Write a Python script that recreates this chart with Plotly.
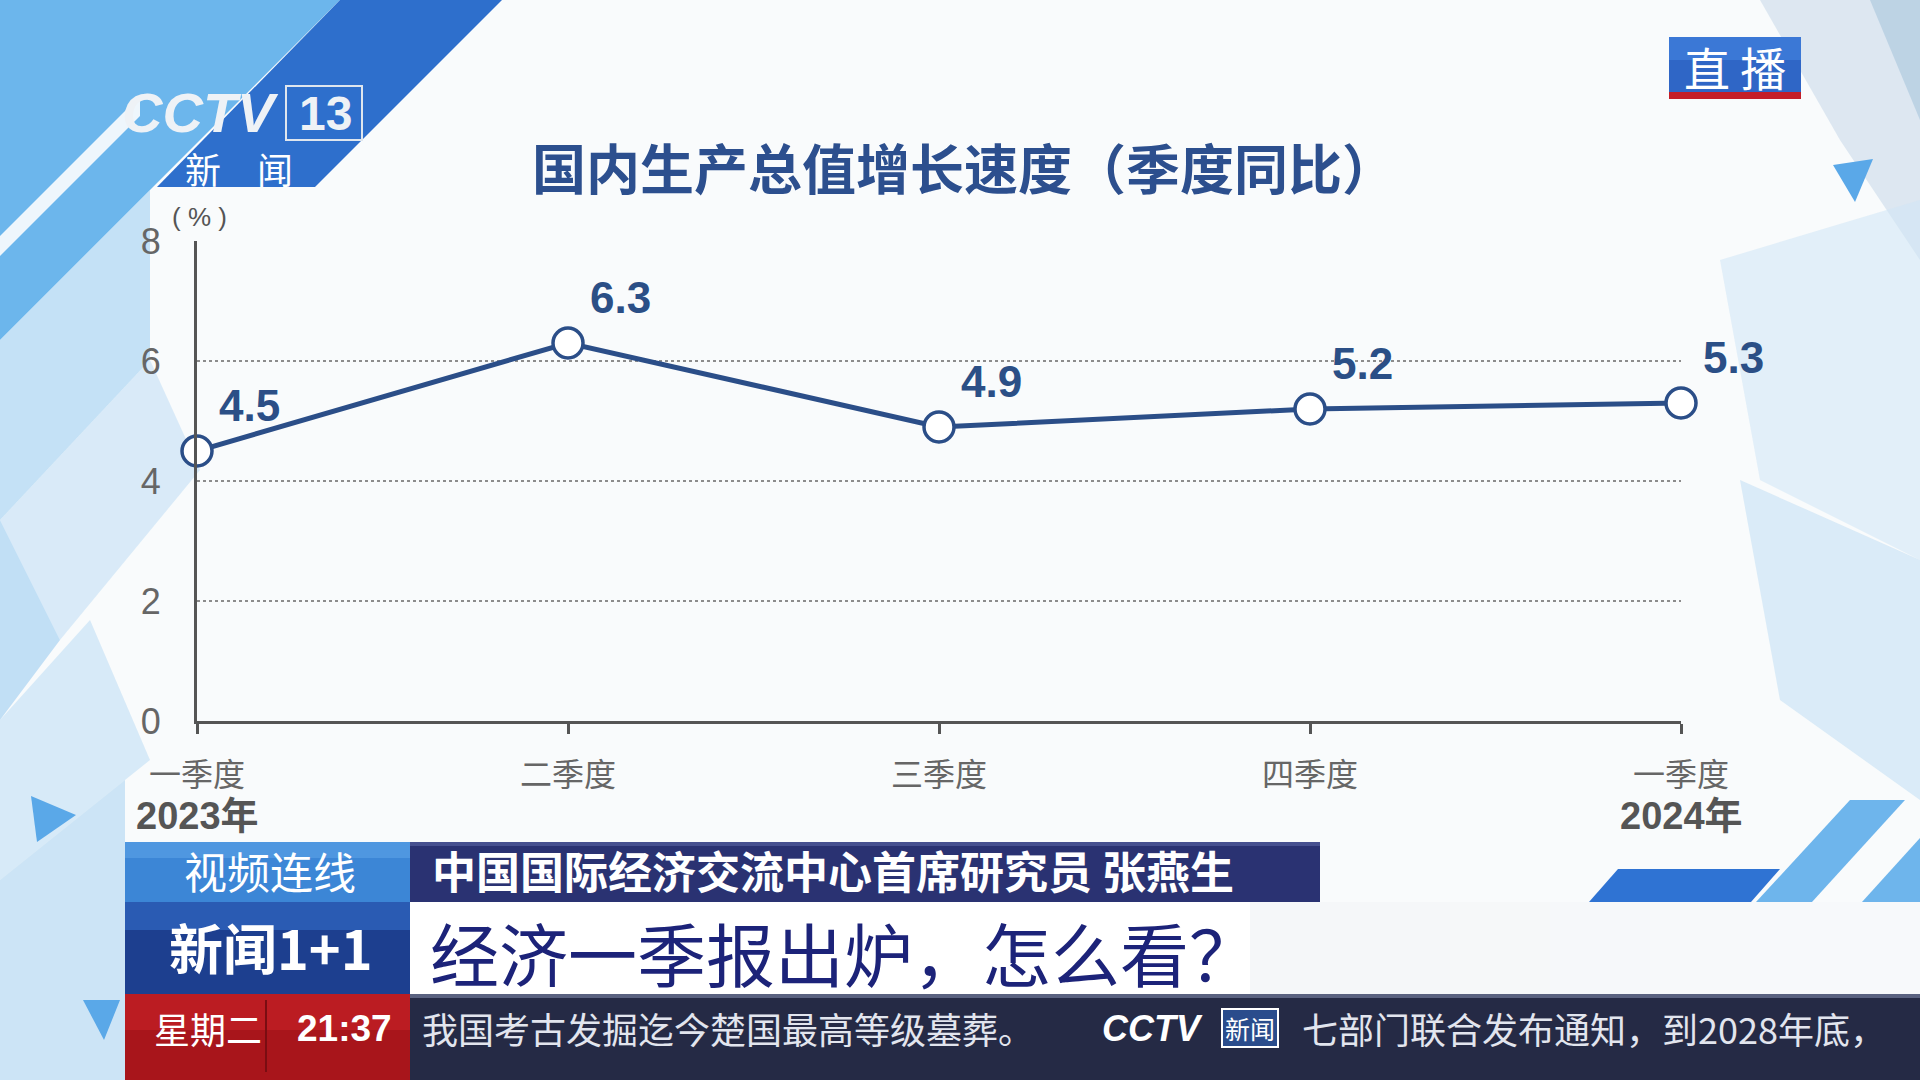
import plotly.graph_objects as go

# ---------------- data ----------------
categories = ["一季度", "二季度", "三季度", "四季度", "一季度"]
gdp_growth = [4.5, 6.3, 4.9, 5.2, 5.3]
year_positions = [0, 4]
year_labels = ["2023年", "2024年"]
y_ticks = [0, 2, 4, 6, 8]
chart_title = "国内生产总值增长速度（季度同比）"
unit_label = "( % )"

W, H = 1920, 1080
CJK = "Noto Sans CJK SC"
NUM = "Liberation Sans, Arial, Noto Sans CJK SC"
LINE_BLUE = "#2b4e88"


def px(x):
    return x / W


def py(y):
    return 1 - y / H


def poly(points, color, layer="below", opacity=1.0):
    d = "M " + " L ".join(f"{px(x):.5f} {py(y):.5f}" for x, y in points) + " Z"
    return dict(type="path", path=d, xref="paper", yref="paper",
                fillcolor=color, line=dict(width=0), layer=layer, opacity=opacity)


def rect(x0, y0, x1, y1, color, layer="above", opacity=1.0, line=None):
    return dict(type="rect", xref="paper", yref="paper",
                x0=px(x0), x1=px(x1), y0=py(y1), y1=py(y0),
                fillcolor=color, line=line or dict(width=0), layer=layer, opacity=opacity)


def text(x, y, s, size, color, family=CJK, xanchor="center", yanchor="middle", **kw):
    return dict(x=px(x), y=py(y), xref="paper", yref="paper", text=s, showarrow=False,
                xanchor=xanchor, yanchor=yanchor,
                font=dict(size=size, color=color, family=family), **kw)


fig = go.Figure()

fig.add_trace(go.Scatter(
    x=list(range(len(categories))),
    y=gdp_growth,
    mode="lines+markers",
    line=dict(color=LINE_BLUE, width=5),
    marker=dict(symbol="circle", size=30, color="white",
                line=dict(color=LINE_BLUE, width=3.5)),
    cliponaxis=False,
    hoverinfo="skip",
    showlegend=False,
))

shapes = []
# --- background decoration (below) ---
shapes.append(poly([(0, 0), (340, 0), (0, 340)], "#6cb6ec"))
shapes.append(poly([(0, 236), (140, 96), (140, 116), (0, 256)], "#eef6fc"))
shapes.append(poly([(340, 0), (502, 0), (315, 187), (157, 187)], "#2e6fcc"))
# left faded pattern
shapes.append(poly([(0, 340), (150, 190), (150, 360), (0, 520)], "#8fc7ef", opacity=0.5))
shapes.append(poly([(0, 520), (150, 360), (200, 470), (60, 640)], "#a9d3f2", opacity=0.4))
shapes.append(poly([(0, 520), (60, 640), (0, 720)], "#7dbdee", opacity=0.45))
shapes.append(poly([(0, 720), (90, 620), (150, 760), (0, 880)], "#b6daf3", opacity=0.5))
shapes.append(poly([(0, 880), (125, 780), (125, 1080), (0, 1080)], "#9fcdf0", opacity=0.5))
# right faded pattern
shapes.append(poly([(1760, 0), (1920, 0), (1920, 260), (1840, 140)], "#c9dbe9", opacity=0.6))
shapes.append(poly([(1870, 0), (1920, 0), (1920, 120)], "#a9c6dc", opacity=0.6))
shapes.append(poly([(1720, 260), (1920, 200), (1920, 560), (1760, 480)], "#cfe5f5", opacity=0.55))
shapes.append(poly([(1740, 480), (1920, 560), (1920, 800), (1780, 700)], "#bcdcf3", opacity=0.5))
# small triangles
shapes.append(poly([(1833, 165), (1873, 159), (1855, 202)], "#5aa8e8"))
shapes.append(poly([(31, 796), (76, 815), (37, 842)], "#5aa8e8"))
shapes.append(poly([(83, 1000), (120, 1000), (104, 1040)], "#5aa8e8"))
# bottom right stripes
shapes.append(poly([(1589, 902), (1618, 869), (1780, 869), (1751, 902)], "#2f73d3", layer="above"))
shapes.append(poly([(1756, 902), (1850, 800), (1905, 800), (1812, 902)], "#6eb5ec", layer="above"))
shapes.append(poly([(1862, 902), (1920, 838), (1920, 902)], "#6eb5ec", layer="above"))

# --- lower third (above) ---
shapes.append(rect(410, 902, 1250, 994, "#ffffff", opacity=0.97))
fade = [(1250, 1350, 0.9), (1350, 1450, 0.8), (1450, 1550, 0.68), (1550, 1650, 0.55),
        (1650, 1750, 0.45), (1750, 1920, 0.35)]
for a, b, o in fade:
    shapes.append(rect(a, 902, b, 994, "#f4f6f8", opacity=o))
shapes.append(rect(125, 842, 410, 902, "#3c86d6"))
shapes.append(rect(125, 842, 410, 858, "#4f97e0"))
shapes.append(rect(410, 842, 1320, 902, "#2a3272"))
shapes.append(rect(410, 842, 1320, 846, "#46508f"))
shapes.append(rect(125, 902, 410, 994, "#1d3f8f"))
shapes.append(rect(125, 902, 410, 930, "#2a5bb3"))
shapes.append(rect(410, 994, 1920, 1080, "#252a45"))
shapes.append(rect(410, 994, 1920, 998, "#5a6280"))
shapes.append(rect(125, 994, 410, 1080, "#a8151b"))
shapes.append(rect(125, 994, 410, 1030, "#bb1c22"))
shapes.append(rect(265, 1000, 267, 1072, "#7a0d12"))
shapes.append(dict(type="rect", xref="paper", yref="paper",
                   x0=px(1222), x1=px(1278), y0=py(1047), y1=py(1009),
                   fillcolor="#2a4c8c", line=dict(color="white", width=2), layer="above"))
shapes.append(rect(1669, 37, 1801, 98, "#2f66c6"))
shapes.append(rect(1669, 37, 1801, 60, "#3b78d6"))
shapes.append(rect(1669, 92, 1801, 99, "#c41e28"))
shapes.append(dict(type="rect", xref="paper", yref="paper",
                   x0=px(286), x1=px(362), y0=py(140), y1=py(86),
                   fillcolor="rgba(0,0,0,0)", line=dict(color="#dfe6ee", width=2), layer="above"))

annotations = []
annotations.append(text(199, 217, unit_label, 26, "#555555", family=NUM))
for pos, lab in zip(year_positions, year_labels):
    annotations.append(dict(x=pos, y=py(816), xref="x", yref="paper", text=f"<b>{lab}</b>",
                            showarrow=False, xanchor="center", yanchor="middle",
                            font=dict(size=38, color="#555555", family=NUM)))
for i, v in enumerate(gdp_growth):
    annotations.append(dict(x=i, y=v, xref="x", yref="y", text=f"<b>{v}</b>",
                            showarrow=False, xanchor="center", yanchor="middle",
                            xshift=52, yshift=45,
                            font=dict(size=44, color="#2b4f86", family=NUM)))

annotations.append(text(200, 112, "<b><i>CCTV</i></b>", 56, "#eef2f6", family=NUM))
annotations.append(text(325, 114, "<b>13</b>", 48, "#eef2f6", family=NUM))
annotations.append(text(239, 168, "新\u3000闻", 36, "#ffffff"))
annotations.append(text(1735, 66, "直 播", 46, "#ffffff"))
annotations.append(text(270, 870, "视频连线", 43, "#ffffff"))
annotations.append(text(430, 870, "<b>中国国际经济交流中心首席研究员 张燕生</b>", 44, "#ffffff",
                        xanchor="left"))
annotations.append(text(271, 946, "<b>新闻1+1</b>", 54, "#ffffff"))
annotations.append(text(428, 952, "经济一季报出炉，怎么看？", 69, "#1c2379", xanchor="left"))
annotations.append(text(208, 1028, "星期二", 36, "#ffffff"))
annotations.append(text(344, 1028, "<b>21:37</b>", 37, "#ffffff", family=NUM))
annotations.append(text(420, 1028, "我国考古发掘迄今楚国最高等级墓葬。", 36, "#e2e5ee", xanchor="left"))
annotations.append(text(1152, 1028, "<b><i>CCTV</i></b>", 36, "#ffffff", family=NUM))
annotations.append(text(1250, 1028, "新闻", 25, "#ffffff"))
annotations.append(text(1300, 1028, "七部门联合发布通知，到2028年底，", 36, "#e2e5ee", xanchor="left"))

fig.update_layout(
    width=W, height=H, autosize=False,
    margin=dict(l=0, r=0, t=0, b=0, pad=0, autoexpand=False),
    paper_bgcolor="#f9fbfc",
    plot_bgcolor="rgba(0,0,0,0)",
    title=dict(text=f"<b>{chart_title}</b>", x=px(964), y=py(171),
               xanchor="center", yanchor="middle", xref="paper", yref="paper",
               automargin=False,
               font=dict(size=54, color="#2c4f8e", family=CJK)),
    xaxis=dict(
        domain=[px(197), px(1681)],
        range=[0, len(categories) - 1],
        tickmode="array",
        tickvals=list(range(len(categories))),
        ticktext=categories,
        tickfont=dict(size=32, color="#666666", family=CJK),
        ticks="outside", ticklen=10, tickwidth=2.5, tickcolor="#555555",
        ticklabelstandoff=14,
        showline=True, linecolor="#555555", linewidth=3,
        showgrid=False, zeroline=False,
        automargin=False,
        fixedrange=True,
    ),
    yaxis=dict(
        domain=[py(721), py(241)],
        range=[0, 8],
        tickmode="array",
        tickvals=y_ticks,
        tickfont=dict(size=36, color="#666666", family=NUM),
        ticks="",
        ticklabelstandoff=26,
        showline=True, linecolor="#555555", linewidth=3,
        showgrid=True, gridcolor="#8c8c8c", griddash="dot", gridwidth=1.5,
        zeroline=False,
        automargin=False,
        fixedrange=True,
    ),
    shapes=shapes,
    annotations=annotations,
)

fig.write_html("out.html", post_script="document.body.style.margin='0';document.body.style.overflow='hidden';",
               config={"displayModeBar": False})
